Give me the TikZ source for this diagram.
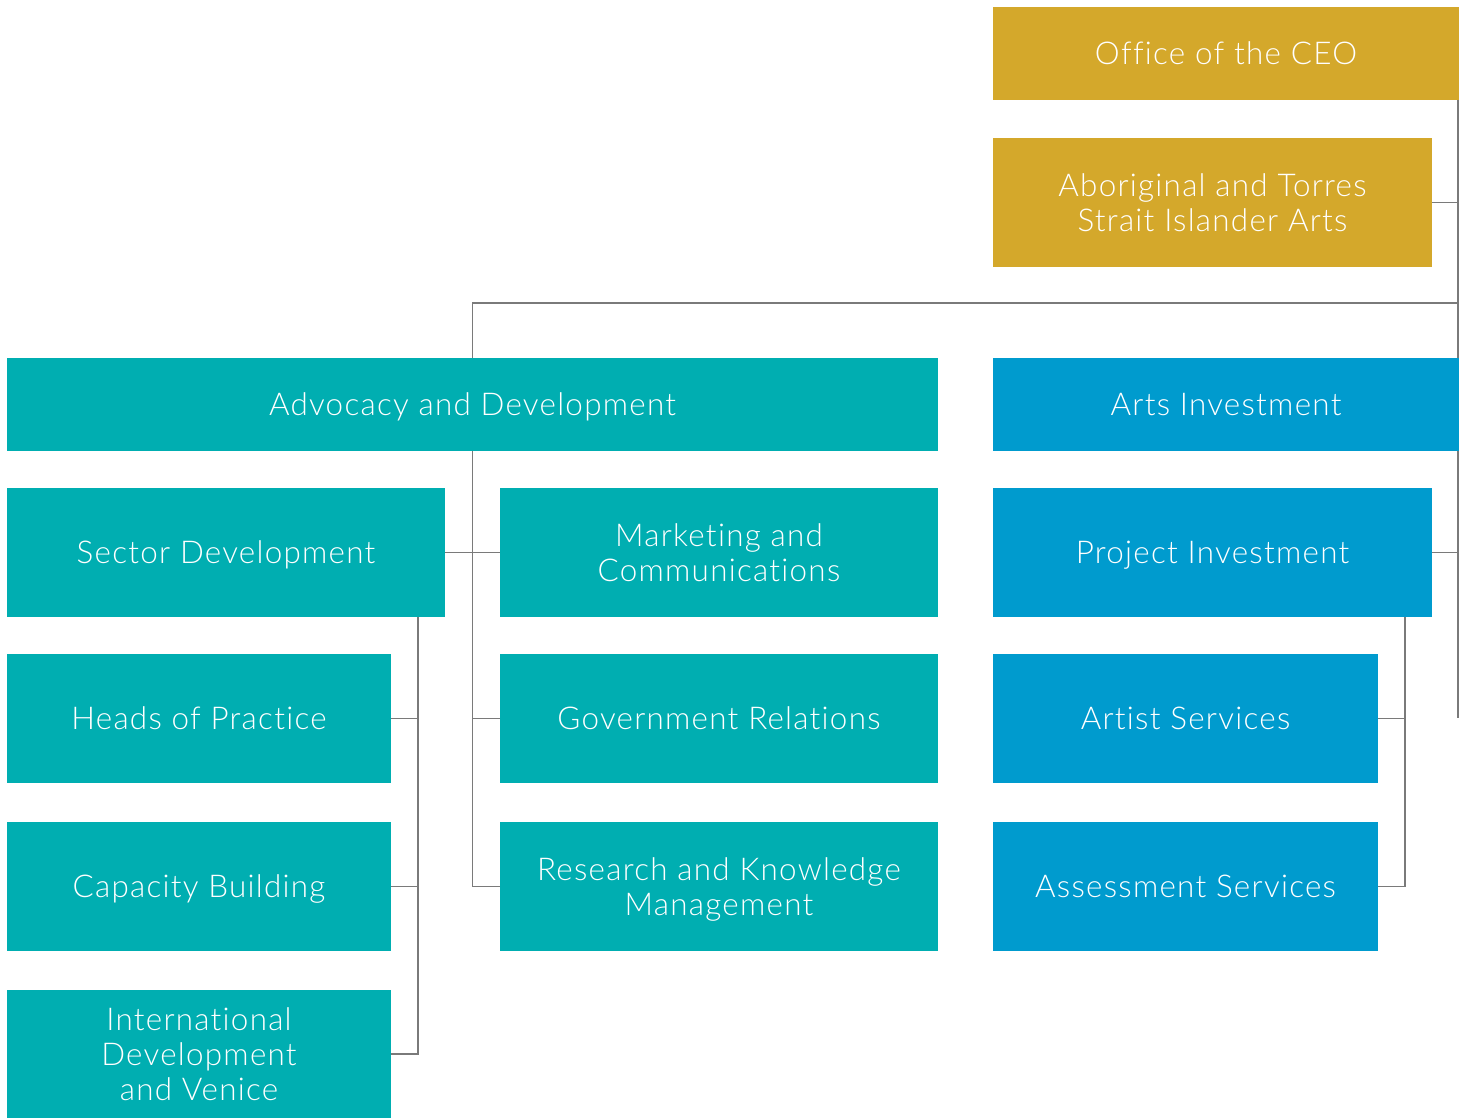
\documentclass[tikz,border=0pt]{standalone}
\usepackage{fontspec}
\IfFontExistsTF{Lato Light}
  {\setmainfont{Lato Light}[LetterSpace=4,RawFeature={-liga;-dlig;-calt}]}
  {\setmainfont{Lato}[LetterSpace=4,RawFeature={-liga;-dlig;-calt}]}
\usetikzlibrary{backgrounds}

\definecolor{ceogold}{HTML}{D4A82B}
\definecolor{advteal}{HTML}{00AEB1}
\definecolor{artsblue}{HTML}{009BCE}
\definecolor{linegray}{HTML}{7A7A7A}

\begin{document}
\begin{tikzpicture}[x=0.5pt,y=-0.5pt,
  unit/.style={inner sep=0pt,text=white,align=center,text depth=-4pt,
    font=\fontsize{15.7}{17.5}\selectfont},
  gold/.style={unit,fill=ceogold},
  teal/.style={unit,fill=advteal},
  blue/.style={unit,fill=artsblue},
  link/.style={draw=linegray,line width=0.7pt}]

\useasboundingbox (0,0) rectangle (1459,1118);

% executive
\node[gold,minimum width=233pt,minimum height=46.5pt] (ceo) at (1226,53.5) {Office of the CEO};
\node[gold,minimum width=219.5pt,minimum height=64.5pt] (atsi) at (1212.5,202.5) {Aboriginal and Torres\\Strait Islander Arts};

% advocacy and development
\node[teal,minimum width=465.5pt,minimum height=46.5pt] (adv) at (472.5,404.5) {Advocacy and Development};
\node[teal,minimum width=219pt,minimum height=64.5pt] (sector) at (226,552.5) {Sector Development};
\node[teal,minimum width=219pt,minimum height=64.5pt] (mktg) at (719,552.5) {Marketing and\\Communications};
\node[teal,minimum width=219pt,minimum height=64.5pt] (gov) at (719,718.5) {Government Relations};
\node[teal,minimum width=219pt,minimum height=64.5pt] (research) at (719,886.5) {Research and Knowledge\\Management};
\node[teal,minimum width=192pt,minimum height=64.5pt] (heads) at (199,718.5) {Heads of Practice};
\node[teal,minimum width=192pt,minimum height=64.5pt] (capacity) at (199,886.5) {Capacity Building};
\node[teal,minimum width=192pt,minimum height=64pt] (intl) at (199,1054) {International\\Development\\and Venice};

% arts investment
\node[blue,minimum width=233pt,minimum height=46.5pt] (arts) at (1226,404.5) {Arts Investment};
\node[blue,minimum width=219.5pt,minimum height=64.5pt] (project) at (1212.5,552.5) {Project Investment};
\node[blue,minimum width=192.5pt,minimum height=64.5pt] (artist) at (1185.5,718.5) {Artist Services};
\node[blue,minimum width=192.5pt,minimum height=64.5pt] (assess) at (1185.5,886.5) {Assessment Services};

\coordinate (spine) at (1458,100);
\coordinate (spine top) at (1458,303);
\coordinate (spine end) at (1458,718);
\coordinate (sbus) at (418,617);
\coordinate (pbus) at (1405,617);

\begin{scope}[on background layer]
\draw[link] (spine) -- (spine end);
\draw[link] (atsi.east) -- (atsi.east -| spine);
\draw[link] (adv.north) |- (spine top);
\draw[link] (adv.south) |- (research.west);
\draw[link] (sector.east) -- (mktg.west);
\draw[link] (gov.west) -- (gov.west -| adv.south);
\draw[link] (sbus) |- (intl.east);
\draw[link] (heads.east) -- (heads.east -| sbus);
\draw[link] (capacity.east) -- (capacity.east -| sbus);
\draw[link] (project.east) -- (project.east -| spine);
\draw[link] (pbus) |- (assess.east);
\draw[link] (artist.east) -- (artist.east -| pbus);
\end{scope}

\end{tikzpicture}
\end{document}
